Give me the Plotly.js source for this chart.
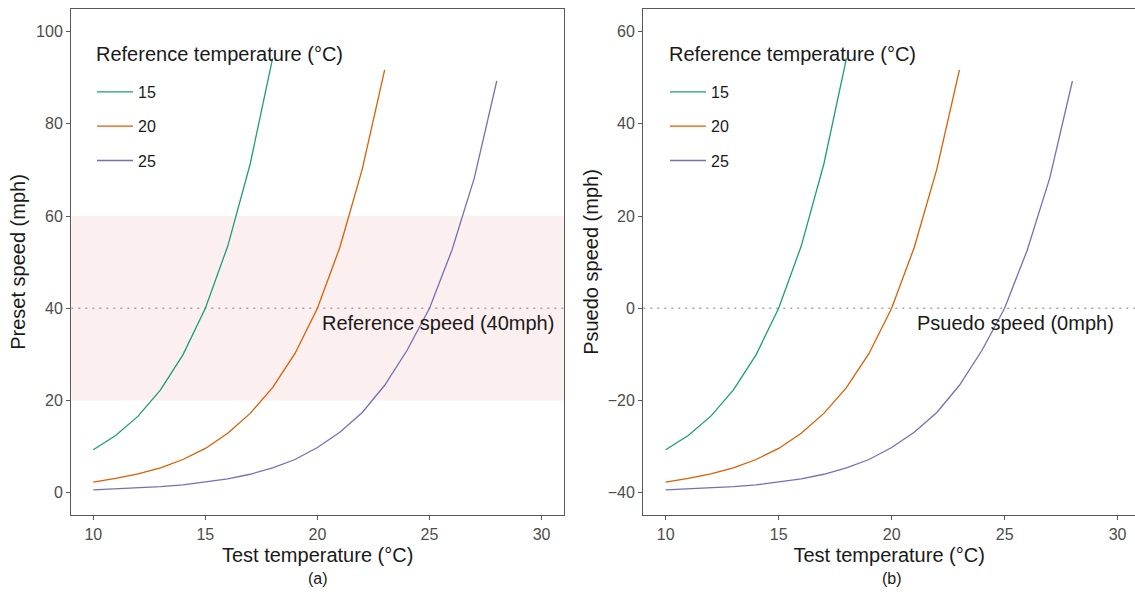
<!DOCTYPE html>
<html>
<head>
<meta charset="utf-8">
<script src="https://cdn.plot.ly/plotly-3.0.1.min.js"></script>
<style>
html,body{margin:0;padding:0;background:#fff;}
#chart{width:1135px;height:598px;}
</style>
</head>
<body>
<div id="chart"></div>
<script>
// ---- data ----
const refTemps = ["15", "20", "25"];
const seriesColors = ["#1b9e77", "#d95f02", "#7570b3"];

const testTemp15 = [10, 11, 12, 13, 14, 15, 16, 17, 18];
const testTemp20 = [10, 11, 12, 13, 14, 15, 16, 17, 18, 19, 20, 21, 22, 23];
const testTemp25 = [10, 11, 12, 13, 14, 15, 16, 17, 18, 19, 20, 21, 22, 23, 24, 25, 26, 27, 28];

// Panel (a): preset speed (mph)
const preset15 = [9.3, 12.4, 16.6, 22.3, 29.9, 40, 53.5, 71.3, 94.2];
const preset20 = [2.3, 3.1, 4.1, 5.4, 7.2, 9.6, 12.9, 17.2, 22.8, 30.2, 40, 53.2, 70.2, 91.7];
const preset25 = [0.6, 0.8, 1.0, 1.3, 1.7, 2.3, 3.0, 4.0, 5.4, 7.2, 9.8, 13.1, 17.4, 23.3, 30.9, 40, 52.6, 68.3, 89.3];

// Panel (b): pseudo speed (mph)
const pseudo15 = [-30.7, -27.6, -23.4, -17.7, -10.1, 0, 13.5, 31.3, 54.2];
const pseudo20 = [-37.7, -36.9, -35.9, -34.6, -32.8, -30.4, -27.1, -22.8, -17.2, -9.8, 0, 13.2, 30.2, 51.7];
const pseudo25 = [-39.4, -39.2, -39.0, -38.7, -38.3, -37.7, -37.0, -36.0, -34.6, -32.8, -30.2, -26.9, -22.6, -16.7, -9.1, 0, 12.6, 28.3, 49.3];

const xTickVals = [10, 15, 20, 25, 30];
const yTickValsA = [0, 20, 40, 60, 80, 100];
const yTickValsB = [-40, -20, 0, 20, 40, 60];

const referenceSpeed = 40;        // dotted line, panel (a)
const referenceBand = [20, 60];   // shaded band, panel (a)
const pseudoSpeed = 0;            // dotted line, panel (b)

const legendTitle = "Reference temperature (°C)";
const labelA = "Reference speed (40mph)";
const labelB = "Psuedo speed (0mph)";
// ------------------------------------------------

const FONT = "Liberation Sans, Arial, sans-serif";
const W = 1135, H = 598;
const px = v => v / W;
const py = v => 1 - v / H;

const xsA = [testTemp15, testTemp20, testTemp25];
const ysA = [preset15, preset20, preset25];
const ysB = [pseudo15, pseudo20, pseudo25];

const traces = [];
for (let i = 0; i < 3; i++) {
  traces.push({
    x: xsA[i], y: ysA[i], type: "scatter", mode: "lines",
    name: refTemps[i], legendgroup: "a" + i, legend: "legend",
    line: {color: seriesColors[i], width: 1.3},
    xaxis: "x", yaxis: "y", hoverinfo: "skip"
  });
}
for (let i = 0; i < 3; i++) {
  traces.push({
    x: xsA[i], y: ysB[i], type: "scatter", mode: "lines",
    name: refTemps[i], legendgroup: "b" + i, legend: "legend2",
    line: {color: seriesColors[i], width: 1.3},
    xaxis: "x2", yaxis: "y2", hoverinfo: "skip"
  });
}

const axisCommon = {
  showgrid: false, zeroline: false,
  showline: true, linecolor: "#595959", linewidth: 1.3,
  ticks: "outside", ticklen: 4, tickwidth: 1.1, tickcolor: "#595959",
  tickfont: {family: FONT, size: 16, color: "#4d4d4d"},
  fixedrange: true
};
const yDomain = [(H - 515) / H, (H - 9) / H];

const legendCommon = {
  xanchor: "left", yanchor: "top",
  bgcolor: "rgba(0,0,0,0)", borderwidth: 0,
  font: {family: FONT, size: 16, color: "#1a1a1a"},
  tracegroupgap: 10.5,
  itemwidth: 36
};

const layout = {
  width: W, height: H,
  margin: {l: 0, r: 0, t: 0, b: 0},
  paper_bgcolor: "#ffffff", plot_bgcolor: "#ffffff",
  showlegend: true,
  xaxis: Object.assign({}, axisCommon, {
    domain: [px(71.3), px(564)], range: [9.02, 31], anchor: "y",
    mirror: true, tickvals: xTickVals,
    title: {text: "Test temperature (°C)", font: {family: FONT, size: 20, color: "#1a1a1a"}, standoff: 6}
  }),
  yaxis: Object.assign({}, axisCommon, {
    domain: yDomain, range: [-4.84, 104.92], anchor: "x",
    mirror: true, tickvals: yTickValsA,
    title: {text: "Preset speed (mph)", font: {family: FONT, size: 20, color: "#1a1a1a"}, standoff: 5}
  }),
  xaxis2: Object.assign({}, axisCommon, {
    domain: [px(643.3), 1], range: [9.01, 30.77], anchor: "y2",
    mirror: true, tickvals: xTickVals,
    title: {text: "Test temperature (°C)", font: {family: FONT, size: 20, color: "#1a1a1a"}, standoff: 6}
  }),
  yaxis2: Object.assign({}, axisCommon, {
    domain: yDomain, range: [-44.84, 64.92], anchor: "x2",
    mirror: false, tickvals: yTickValsB,
    title: {text: "Psuedo speed (mph)", font: {family: FONT, size: 20, color: "#1a1a1a"}, standoff: 3}
  }),
  legend: Object.assign({}, legendCommon, {x: px(92), y: py(75)}),
  legend2: Object.assign({}, legendCommon, {x: px(665), y: py(75)}),
  shapes: [
    {type: "rect", xref: "x domain", yref: "y", x0: 0, x1: 1,
     y0: referenceBand[0], y1: referenceBand[1],
     fillcolor: "#fcefef", line: {width: 0}, layer: "below"},
    {type: "line", xref: "x domain", yref: "y", x0: 0, x1: 1,
     y0: referenceSpeed, y1: referenceSpeed,
     line: {color: "#a6a6a6", width: 1.6, dash: "2px,5px"}, layer: "below"},
    {type: "line", xref: "x2 domain", yref: "y2", x0: 0, x1: 1,
     y0: pseudoSpeed, y1: pseudoSpeed,
     line: {color: "#a6a6a6", width: 1.6, dash: "2px,5px"}, layer: "below"}
  ],
  annotations: [
    {xref: "paper", yref: "paper", x: px(94), y: py(54), xanchor: "left", yanchor: "middle",
     showarrow: false, text: legendTitle, font: {family: FONT, size: 20, color: "#1a1a1a"}},
    {xref: "paper", yref: "paper", x: px(667), y: py(54), xanchor: "left", yanchor: "middle",
     showarrow: false, text: legendTitle, font: {family: FONT, size: 20, color: "#1a1a1a"}},
    {xref: "x domain", yref: "y", x: 1, y: referenceSpeed, xanchor: "right", yanchor: "middle",
     xshift: -8, yshift: -15, showarrow: false, text: labelA,
     font: {family: FONT, size: 20, color: "#1a1a1a"}},
    {xref: "x2 domain", yref: "y2", x: 1, y: pseudoSpeed, xanchor: "right", yanchor: "middle",
     xshift: -19, yshift: -15, showarrow: false, text: labelB,
     font: {family: FONT, size: 20, color: "#1a1a1a"}},
    {xref: "paper", yref: "paper", x: px(317.7), y: py(578), xanchor: "center", yanchor: "middle",
     showarrow: false, text: "(a)", font: {family: FONT, size: 16, color: "#1a1a1a"}},
    {xref: "paper", yref: "paper", x: px(891.7), y: py(578), xanchor: "center", yanchor: "middle",
     showarrow: false, text: "(b)", font: {family: FONT, size: 16, color: "#1a1a1a"}}
  ]
};

Plotly.newPlot("chart", traces, layout, {staticPlot: true, displayModeBar: false});
</script>
</body>
</html>
